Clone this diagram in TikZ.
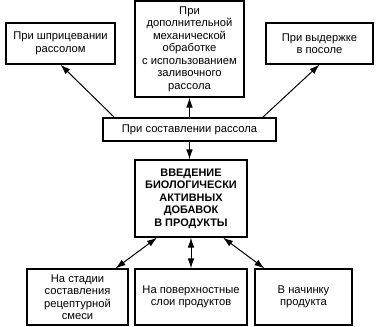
\documentclass[tikz,border=0pt]{standalone}
\usepackage{fontspec}
\setmainfont{Liberation Sans}
\usetikzlibrary{arrows.meta}

\begin{document}
\begin{tikzpicture}[x=0.75pt,y=-0.75pt,
  box/.style={draw,line width=0.9pt,inner sep=0pt,align=center,
    font=\fontsize{8.4}{9.4}\selectfont},
  arr/.style={line width=0.75pt,-{Latex[length=7.5pt,width=5pt]}},
  darr/.style={line width=0.75pt,{Latex[length=7.5pt,width=5pt]}-{Latex[length=7.5pt,width=5pt]}}]
  \useasboundingbox (0,0) rectangle (378,326);
  % upper row: ways of adding the brine
  \node[box,minimum width=81.75pt,minimum height=30.75pt] (tl) at (60.5,43.5)
    {При шприцевании\\рассолом};
  \node[box,minimum width=81.75pt,minimum height=72pt] (tm) at (189.5,49)
    {При\\дополнительной\\механической\\обработке\\с использованием\\заливочного\\рассола};
  \node[box,minimum width=80.25pt,minimum height=30.75pt] (tr) at (319.5,43.5)
    {При выдержке\\в посоле};
  \node[box,minimum width=129.75pt,minimum height=17.25pt] (bar) at (189.5,129.5)
    {При составлении рассола};
  % central block
  \node[box,font=\fontsize{8.2}{9.4}\selectfont\bfseries,minimum width=84pt,minimum height=57.75pt] (main) at (191,198.5)
    {ВВЕДЕНИЕ\\БИОЛОГИЧЕСКИ\\АКТИВНЫХ\\ДОБАВОК\\В ПРОДУКТЫ};
  % lower row
  \node[box,minimum width=75.75pt,minimum height=42pt] (bl) at (77.5,297)
    {На стадии\\составления\\рецептурной\\смеси};
  \node[box,minimum width=84pt,minimum height=42pt] (bm) at (191,297)
    {На поверхностные\\слои продуктов};
  \node[box,minimum width=72.75pt,minimum height=42pt] (br) at (303.5,297)
    {В начинку\\продукта};
  % connectors
  \draw[arr] ([xshift=9pt]bar.north west) -- (tl.south);
  \draw[arr] (bar.north) -- (tm.south);
  \draw[arr] ([xshift=-10.5pt]bar.north east) -- (tr.south);
  \draw[arr] (bar.south) -- (bar.south |- main.north);
  \draw[darr] ([xshift=-25.5pt]main.south) -- ([xshift=-9.75pt]bl.north east);
  \draw[darr] (main.south) -- (bm.north);
  \draw[darr] ([xshift=24pt]main.south) -- ([xshift=7.5pt]br.north west);
\end{tikzpicture}
\end{document}
